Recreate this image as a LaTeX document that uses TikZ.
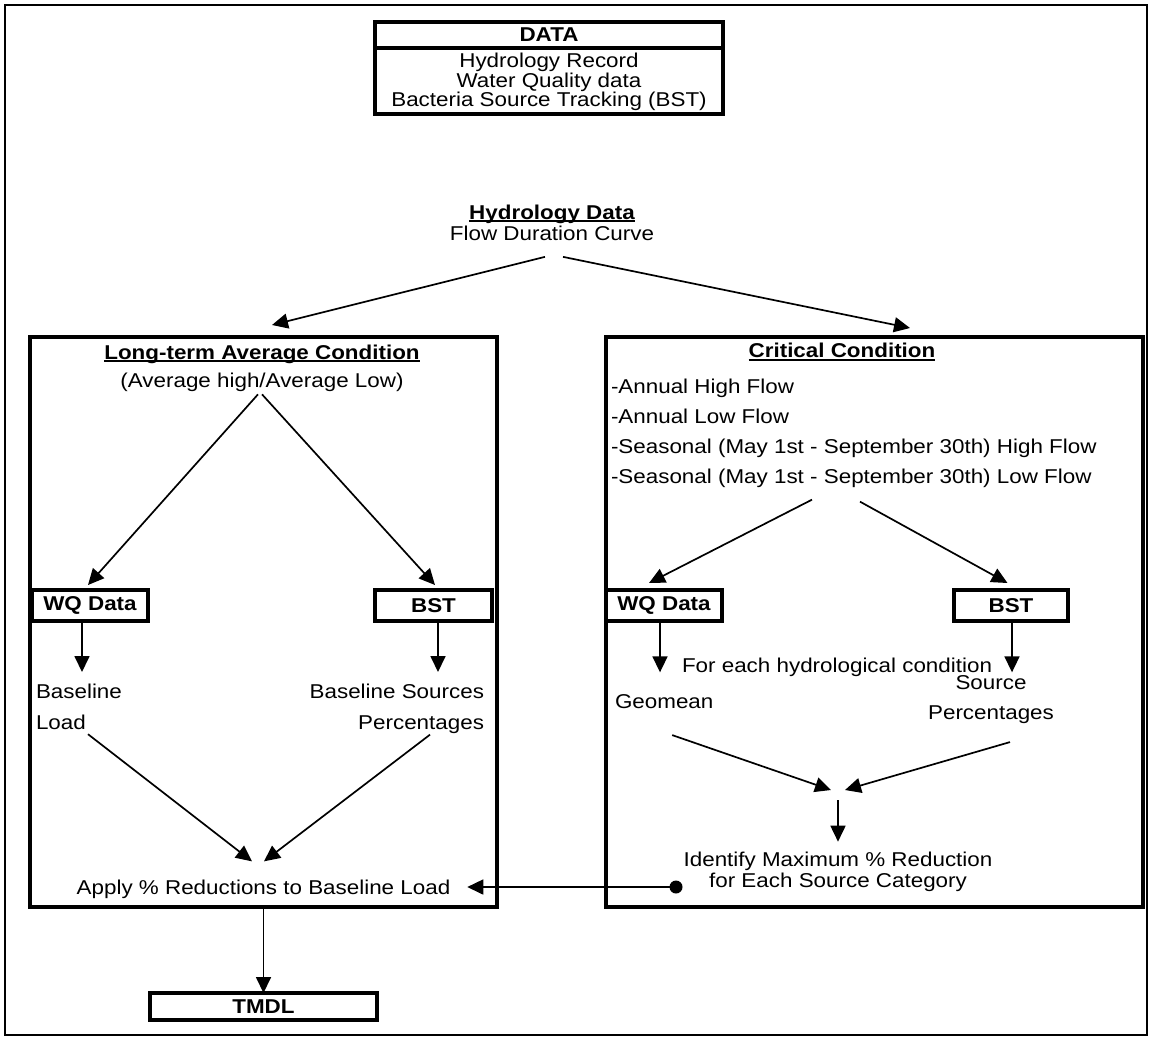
\documentclass[tikz,border=0pt]{standalone}
\usepackage{fontspec}
\setmainfont[FakeStretch=1.12]{Liberation Sans}
\usetikzlibrary{arrows.meta, positioning}

% bold heading with a close underline
\newcommand{\ulhead}[1]{\setbox0=\hbox{\bfseries #1}\rlap{\rule[-1.4pt]{\wd0}{1pt}}\box0}

\begin{document}
\begin{tikzpicture}[
    x=0.5pt, y=-0.5pt,
    every node/.style={inner sep=0pt, outer sep=0pt, font=\fontsize{10}{15}\selectfont},
    bigbox/.style={rectangle, draw, line width=1.8pt, anchor=north west},
    smallbox/.style={rectangle, draw, line width=1.8pt, anchor=north west, minimum width=58pt, minimum height=15.5pt, font=\fontsize{10}{11}\selectfont\bfseries},
    arrow/.style={-{Triangle[length=8pt, width=7.5pt]}, line width=0.85pt},
    dotnode/.style={circle, fill, minimum size=6.5pt}
]
\useasboundingbox (0,0) rectangle (1150,1040);
\draw[line width=1.1pt] (5,5) rectangle (1147,1035);

% data sources
\node[bigbox, minimum width=174pt, minimum height=13pt, font=\fontsize{10}{11}\selectfont\bfseries] (datahead) at (375,22) {DATA};
\node[bigbox, below=0pt of datahead, minimum width=174pt, minimum height=33pt] (databody) {};
\node[align=center, font=\fontsize{10}{9.6}\selectfont] (datalist) at (549,82) {Hydrology Record\\Water Quality data\\Bacteria Source Tracking (BST)};
\node[align=center, font=\fontsize{10}{10.5}\selectfont] (hydro) at (552,223) {\ulhead{Hydrology Data}\\Flow Duration Curve};

% the two conditions
\node[bigbox, minimum width=233.5pt, minimum height=285pt] (longbox) at (30,337) {};
\node[bigbox, minimum width=268.5pt, minimum height=285pt] (critbox) at (606,337) {};
\draw[arrow] ([xshift=-3.5pt, yshift=-8pt]hydro.south) -- ([xshift=4.25pt, yshift=6pt]longbox.north);
\draw[arrow] ([xshift=5.5pt, yshift=-8pt]hydro.south) -- ([xshift=17.75pt, yshift=4.5pt]critbox.north);

% long-term average branch
\node[align=center, font=\fontsize{10}{14}\selectfont] (longtitle) at (262,368) {\ulhead{Long-term Average Condition}\\(Average high/Average Low)};
\node[smallbox] (wqL) at (32,590) {WQ Data};
\node[smallbox, minimum width=58.5pt] (bstL) at (375,590) {BST};
\draw[arrow] ([xshift=-2pt, yshift=-1.5pt]longtitle.south) -- ([xshift=-1pt, yshift=2.5pt]wqL.north);
\draw[arrow] ([yshift=-1.5pt]longtitle.south) -- ([xshift=0.75pt, yshift=2.5pt]bstL.north);
\node[align=left, anchor=north west, font=\fontsize{10}{15.5}\selectfont] (baseL) at (36,684) {Baseline\\Load};
\node[align=right, anchor=north east, font=\fontsize{10}{15.5}\selectfont] (baseR) at (484,684) {Baseline Sources\\Percentages};
\draw[arrow, shorten >=6pt] ([xshift=-4pt]wqL.south) -- ([xshift=-4pt]wqL.south |- baseL.north);
\draw[arrow, shorten >=6pt] ([xshift=2.25pt]bstL.south) -- ([xshift=2.25pt]bstL.south |- baseR.north);
\node[above=4pt of longbox.south] (apply) {Apply \% Reductions to Baseline Load};
\draw[arrow] ([xshift=26pt, yshift=-2.25pt]baseL.south west) -- ([xshift=-5.75pt, yshift=9.5pt]apply.north);
\draw[arrow] ([xshift=-27pt, yshift=-0.5pt]baseR.south east) -- ([xshift=0.25pt, yshift=9.5pt]apply.north);
\node[smallbox, minimum width=113.5pt, minimum height=13.5pt, below=43pt of longbox.south] (tmdl) {TMDL};
\draw[arrow] (longbox.south) -- (tmdl.north);

% critical condition branch
\node (crittitle) at (842,352) {\ulhead{Critical Condition}};
\node[align=left, anchor=north west] (critlist) at (611,379) {-Annual High Flow\\-Annual Low Flow\\-Seasonal (May 1st - September 30th) High Flow\\-Seasonal (May 1st - September 30th) Low Flow};
\node[smallbox] (wqR) at (606,590) {WQ Data};
\node[smallbox, minimum width=57pt] (bstR) at (954,590) {BST};
\draw[arrow] ([xshift=100.5pt, yshift=-6pt]critlist.south west) -- ([xshift=-7.5pt, yshift=3.5pt]wqR.north);
\draw[arrow] ([xshift=124.5pt, yshift=-7pt]critlist.south west) -- ([xshift=-1.75pt, yshift=3.5pt]bstR.north);
\node[anchor=west] (foreach) at (682,667) {For each hydrological condition};
\draw[arrow, shorten >=2pt] ([xshift=-2pt]wqR.south) -- ([xshift=-2pt]wqR.south |- foreach.south);
\draw[arrow, shorten >=2pt] ([xshift=0.5pt]bstR.south) -- ([xshift=0.5pt]bstR.south |- foreach.south);
\node[anchor=west] (geo) at (615,702) {Geomean};
\node[align=center] (srcR) at (991,700) {Source\\Percentages};
\coordinate (merge) at (838,790);
\draw[arrow] ([xshift=4pt, yshift=-13pt]geo.south) -- ([xshift=-3.5pt]merge);
\draw[arrow] ([xshift=9.5pt, yshift=-9pt]srcR.south) -- ([xshift=3.5pt]merge);
\node[align=center, font=\fontsize{10}{10.5}\selectfont] (ident) at (838,871.5) {Identify Maximum \% Reduction\\for Each Source Category};
\draw[arrow, shorten >=5pt] ([yshift=-5pt]merge) -- (ident.north);
\node[dotnode] (joint) at (676,887) {};
\draw[arrow, shorten >=8.5pt] (joint) -- (joint -| apply.east);

\end{tikzpicture}
\end{document}
